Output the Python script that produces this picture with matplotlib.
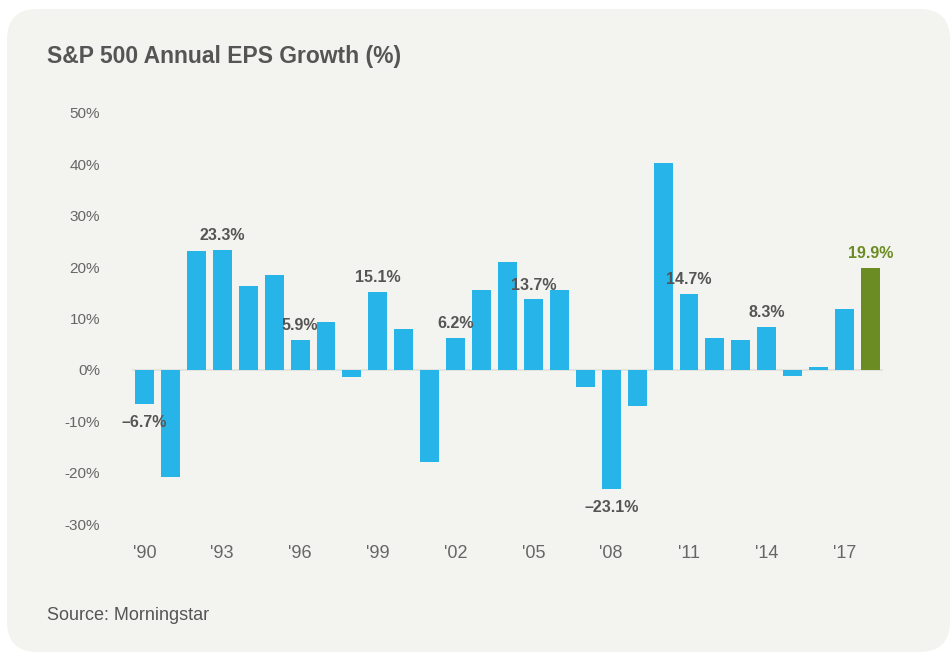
import matplotlib
matplotlib.use("Agg")
import matplotlib.pyplot as plt
from matplotlib.patches import FancyBboxPatch

years = list(range(1990, 2019))
eps_growth = [-6.7, -20.9, 23.1, 23.3, 16.3, 18.5, 5.9, 9.3, -1.3, 15.1,
              8.0, -18.0, 6.2, 15.6, 21.0, 13.7, 15.6, -3.4, -23.1, -7.1,
              40.3, 14.7, 6.2, 5.8, 8.3, -1.1, 0.6, 11.9, 19.9]
labelled_years = [1990, 1993, 1996, 1999, 2002, 2005, 2008, 2011, 2014, 2018]
tick_years = list(range(1990, 2018, 3))
y_ticks = [-30, -20, -10, 0, 10, 20, 30, 40, 50]

blue = "#27b5e9"
green = "#6b8c22"
card = "#f3f3ef"
dark = "#555555"

fig = plt.figure(figsize=(9.51, 6.53), dpi=100, facecolor="white")
W, H = 951, 653

# rounded card behind everything
bg = FancyBboxPatch((7 / W, 1 / H), (950 - 7) / W, (644 - 1) / H,
                    boxstyle="round,pad=0,rounding_size=0.032",
                    transform=fig.transFigure, facecolor=card, edgecolor="none",
                    mutation_aspect=W / H, zorder=-5)
fig.patches.append(bg)

ax = fig.add_axes([132 / W, (H - 524) / H, (883 - 132) / W, (524 - 113) / H])
ax.set_facecolor("none")
ax.set_zorder(2)

x = list(range(len(years)))
colors = [green if y == 2018 else blue for y in years]
ax.bar(x, eps_growth, width=0.73, color=colors, zorder=3)
ax.axhline(0, color="#e3e3df", lw=1.5, zorder=2)

for i, (yr, v) in enumerate(zip(years, eps_growth)):
    if yr not in labelled_years:
        continue
    txt = ("%.1f%%" % v).replace("-", "\u2013")
    c = green if yr == 2018 else dark
    if v >= 0:
        ax.annotate(txt, (i, v), xytext=(0, 5), textcoords="offset points",
                    ha="center", va="bottom", fontsize=11.5, fontweight="bold",
                    color=c, family="Liberation Sans")
    else:
        ax.annotate(txt, (i, v), xytext=(0, -8), textcoords="offset points",
                    ha="center", va="top", fontsize=11.5, fontweight="bold",
                    color=c, family="Liberation Sans")

ax.set_xlim(-0.48, len(years) - 1 + 0.48)
ax.set_ylim(-30, 50)
ax.set_yticks(y_ticks)
ax.set_yticklabels(["%d%%" % t for t in y_ticks])
ax.set_xticks([years.index(t) for t in tick_years])
ax.set_xticklabels(["'%02d" % (t % 100) for t in tick_years])
ax.tick_params(length=0, colors="#666666")
ax.tick_params(axis="y", pad=23, labelsize=11)
ax.tick_params(axis="x", pad=15, labelsize=13)
for lab in ax.get_xticklabels() + ax.get_yticklabels():
    lab.set_family("Liberation Sans")
for s in ax.spines.values():
    s.set_visible(False)

fig.text(47 / W, 1 - 57 / H, "S&P 500 Annual EPS Growth (%)", fontsize=16.5,
         fontweight="bold", color=dark, va="center", ha="left",
         family="Liberation Sans")
fig.text(47 / W, 1 - 616 / H, "Source: Morningstar", fontsize=13,
         color=dark, va="center", ha="left", family="Liberation Sans")

fig.savefig("out.png", dpi=100, facecolor="white")
